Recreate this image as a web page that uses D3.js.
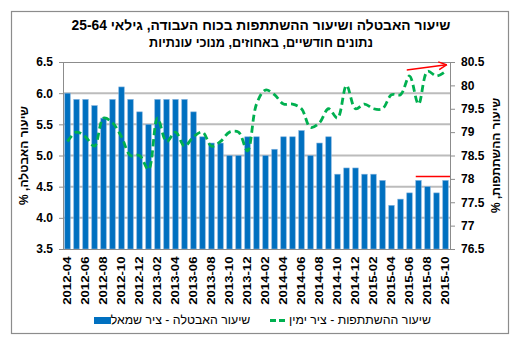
<!DOCTYPE html>
<html>
<head>
<meta charset="utf-8">
<script src="https://cdn.jsdelivr.net/npm/d3@7"></script>
<style>
  body { margin: 0; background: #fff; }
  text { font-family: "Liberation Sans", Arial, sans-serif; }
</style>
</head>
<body>
<svg id="chart" width="513" height="338"></svg>
<script>
// Monthly categories (April 2012 – October 2015)
const months = [
  "2012-04","2012-05","2012-06","2012-07","2012-08","2012-09","2012-10","2012-11","2012-12",
  "2013-01","2013-02","2013-03","2013-04","2013-05","2013-06","2013-07","2013-08","2013-09",
  "2013-10","2013-11","2013-12","2014-01","2014-02","2014-03","2014-04","2014-05","2014-06",
  "2014-07","2014-08","2014-09","2014-10","2014-11","2014-12","2015-01","2015-02","2015-03",
  "2015-04","2015-05","2015-06","2015-07","2015-08","2015-09","2015-10"
];

// Unemployment rate, ages 25-64, % (left axis)
const unemployment = [
  6.0, 5.9, 5.9, 5.8, 5.6, 5.9, 6.1, 5.9, 5.7,
  5.5, 5.9, 5.9, 5.9, 5.9, 5.7, 5.3, 5.2, 5.2,
  5.0, 5.0, 5.3, 5.3, 5.0, 5.1, 5.3, 5.3, 5.4,
  5.0, 5.2, 5.3, 4.7, 4.8, 4.8, 4.7, 4.7, 4.6,
  4.2, 4.3, 4.4, 4.6, 4.5, 4.4, 4.6
];

// Labour force participation rate, ages 25-64, % (right axis)
const participation = [
  78.8, 79.0, 78.9, 78.7, 79.3, 79.2, 78.9, 78.5, 78.5,
  78.2, 79.3, 78.8, 79.0, 78.7, 78.9, 79.0, 78.7, 78.8,
  79.0, 79.0, 78.6, 79.6, 79.9, 79.8, 79.6, 79.6, 79.5,
  79.1, 79.2, 79.5, 79.3, 80.0, 79.5, 79.6, 79.5, 79.5,
  79.8, 79.8, 80.2, 79.6, 80.3, 80.2, 80.3
];

const leftTicks  = [3.5, 4.0, 4.5, 5.0, 5.5, 6.0, 6.5];
const rightTicks = [76.5, 77, 77.5, 78, 78.5, 79, 79.5, 80, 80.5];
const xTickLabels = months.filter((m, i) => i % 2 === 0);

const titleLines = [
  "שיעור האבטלה ושיעור ההשתתפות בכוח העבודה, גילאי 25-64",
  "נתונים חודשיים, באחוזים, מנוכי עונתיות"
];
const leftTitle  = "שיעור האבטלה, %";
const rightTitle = "שיעור ההשתתפות, %";
const legendBars = "שיעור האבטלה - ציר שמאל";
const legendLine = "שיעור ההשתתפות - ציר ימין";

const BLUE = "#0070c0", GREEN = "#00b050", RED = "#ff0000";

const svg = d3.select("#chart");

// outer frame
svg.append("rect").attr("x", 11.5).attr("y", 11.5).attr("width", 497).attr("height", 322)
  .attr("fill", "#fff").attr("stroke", "#8c8c8c").attr("stroke-width", 1.2);

const plot = { left: 63, right: 450, top: 62, bottom: 249 };

const x = d3.scaleBand().domain(months).range([plot.left, plot.right])
  .paddingInner(0.39).paddingOuter(0.195);
const yL = d3.scaleLinear().domain([3.5, 6.5]).range([plot.bottom, plot.top]);
const yR = d3.scaleLinear().domain([76.5, 80.5]).range([plot.bottom, plot.top]);

// horizontal gridlines
svg.append("g").selectAll("line").data(leftTicks.filter(t => t > 3.5 && t < 6.5)).join("line")
  .attr("x1", plot.left).attr("x2", plot.right)
  .attr("y1", d => yL(d)).attr("y2", d => yL(d))
  .attr("stroke", "#bcbcbc").attr("stroke-width", 2);
svg.append("line").attr("x1", plot.left).attr("x2", plot.right)
  .attr("y1", yL(6.5) + 0.5).attr("y2", yL(6.5) + 0.5)
  .attr("stroke", "#8c8c8c").attr("stroke-width", 1);

// bars
svg.append("g").selectAll("rect").data(months).join("rect")
  .attr("x", d => x(d))
  .attr("y", (d, i) => yL(unemployment[i]))
  .attr("width", x.bandwidth())
  .attr("height", (d, i) => yL(3.5) - yL(unemployment[i]))
  .attr("fill", BLUE)
  .attr("stroke", "#7fb0dc").attr("stroke-width", 0.6);

// axes
const fmtL = d => d.toFixed(1);
const fmtR = d => (d % 1 ? d.toFixed(1) : String(d));

const axL = svg.append("g").attr("transform", `translate(${plot.left},0)`)
  .call(d3.axisLeft(yL).tickValues(leftTicks).tickFormat(fmtL).tickSize(4).tickPadding(6));
const axR = svg.append("g").attr("transform", `translate(${plot.right},0)`)
  .call(d3.axisRight(yR).tickValues(rightTicks).tickFormat(fmtR).tickSize(5).tickPadding(6));
[axL, axR].forEach(a => {
  a.selectAll("path, line").attr("stroke", "#8c8c8c");
  a.selectAll("text").attr("font-size", 12).attr("font-weight", "bold").attr("fill", "#000")
    .style("font-family", '"Liberation Sans", Arial, sans-serif');
});

const axB = svg.append("g").attr("transform", `translate(0,${plot.bottom})`)
  .call(d3.axisBottom(x).tickValues(xTickLabels).tickSize(0));
axB.select("path").attr("stroke", "#8c8c8c").attr("d", `M${plot.left},0.5H${plot.right}`);
axB.selectAll("text")
  .attr("font-size", 11).attr("font-weight", "bold").attr("fill", "#000")
  .style("font-family", '"Liberation Sans", Arial, sans-serif')
  .attr("text-anchor", "end")
  .attr("x", 0).attr("y", 0).attr("dy", "0.36em")
  .attr("transform", "translate(0,7.5) rotate(-90) scale(1.2,1)");

// participation line (dashed, smoothed)
const line = d3.line()
  .x((d, i) => x(months[i]) + x.bandwidth() / 2)
  .y(d => yR(d))
  .curve(d3.curveCatmullRom.alpha(0.5));
svg.append("path").datum(participation)
  .attr("d", line)
  .attr("fill", "none").attr("stroke", GREEN)
  .attr("stroke-width", 2.8).attr("stroke-dasharray", "7,4");

// trend annotations
const defs = svg.append("defs");
defs.append("marker").attr("id", "arrow").attr("viewBox", "0 0 10 10")
  .attr("refX", 9).attr("refY", 5).attr("markerWidth", 7).attr("markerHeight", 7)
  .attr("orient", "auto")
  .append("path").attr("d", "M1,1L9,5L1,9").attr("fill", "none")
  .attr("stroke", RED).attr("stroke-width", 1.5);

svg.append("line")
  .attr("x1", x("2015-06")).attr("y1", yR(80.33))
  .attr("x2", plot.right - 3.5).attr("y2", yR(80.44))
  .attr("stroke", RED).attr("stroke-width", 1.4).attr("marker-end", "url(#arrow)");
svg.append("line")
  .attr("x1", x("2015-07")).attr("y1", yR(78.05))
  .attr("x2", plot.right).attr("y2", yR(78.05))
  .attr("stroke", RED).attr("stroke-width", 1.4);

// titles
svg.append("text").attr("x", 261).attr("y", 30).attr("text-anchor", "middle")
  .attr("direction", "rtl").attr("font-size", 13.8).attr("font-weight", "bold")
  .text(titleLines[0]);
svg.append("text").attr("x", 261).attr("y", 47).attr("text-anchor", "middle")
  .attr("direction", "rtl").attr("font-size", 12.7).attr("font-weight", "bold")
  .text(titleLines[1]);

// axis titles
svg.append("text").attr("transform", `translate(28,${(plot.top + plot.bottom) / 2}) rotate(-90)`)
  .attr("text-anchor", "middle").attr("direction", "rtl")
  .attr("font-size", 12).attr("font-weight", "bold").text(leftTitle);
svg.append("text").attr("transform", `translate(500,${(plot.top + plot.bottom) / 2}) rotate(-90)`)
  .attr("text-anchor", "middle").attr("direction", "rtl")
  .attr("font-size", 12).attr("font-weight", "bold").text(rightTitle);

// legend
const lg = svg.append("g");
lg.append("rect").attr("x", 94).attr("y", 317).attr("width", 17).attr("height", 7).attr("fill", BLUE);
lg.append("text").attr("x", 180.5).attr("y", 324).attr("text-anchor", "middle")
  .attr("direction", "rtl").attr("font-size", 12.3).text(legendBars);
lg.append("line").attr("x1", 270).attr("x2", 288).attr("y1", 320.5).attr("y2", 320.5)
  .attr("stroke", GREEN).attr("stroke-width", 2.8).attr("stroke-dasharray", "6,3");
lg.append("text").attr("x", 360).attr("y", 324).attr("text-anchor", "middle")
  .attr("direction", "rtl").attr("font-size", 12.3).text(legendLine);
</script>
</body>
</html>
